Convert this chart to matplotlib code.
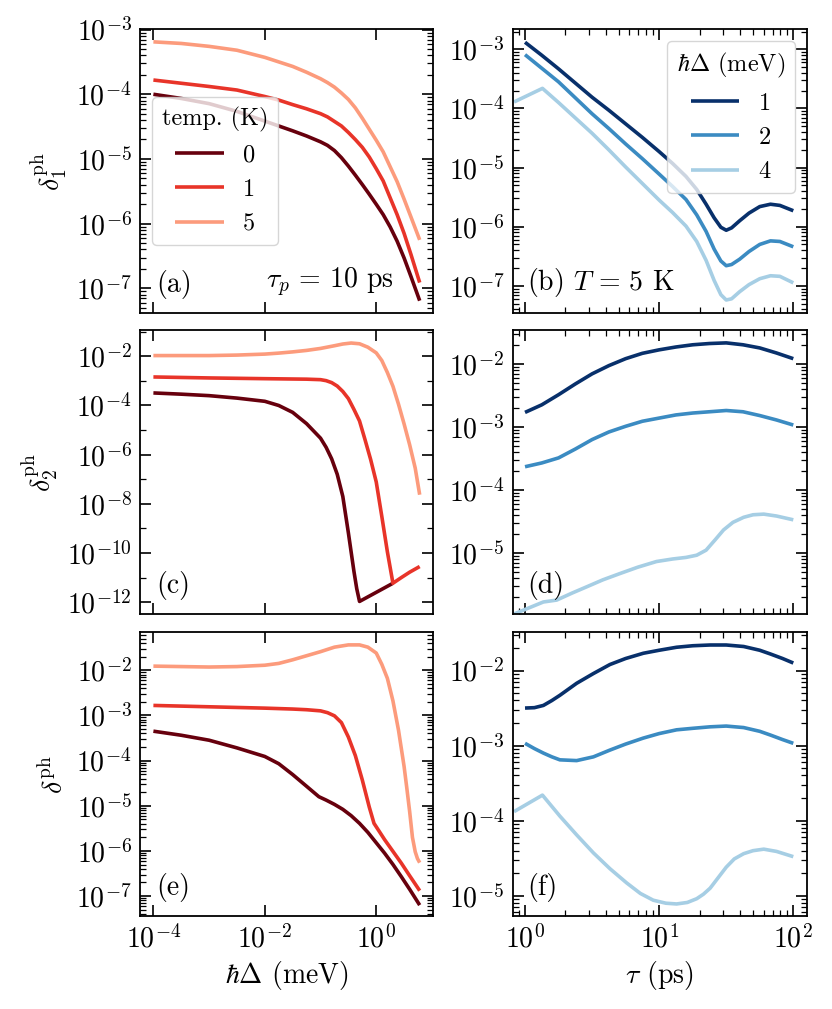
import numpy as np
import matplotlib
matplotlib.use('Agg')
import matplotlib.pyplot as plt
from matplotlib.ticker import LogLocator, NullLocator, NullFormatter

plt.rcParams['font.family'] = 'serif'
plt.rcParams['font.serif'] = ['cmr10']
plt.rcParams['mathtext.fontset'] = 'cm'
plt.rcParams['axes.unicode_minus'] = False
plt.rcParams['axes.formatter.use_mathtext'] = True
plt.rcParams['font.size'] = 20
plt.rcParams['legend.fontsize'] = 17.5
plt.rcParams['legend.title_fontsize'] = 17.5

# all numbers below are log10 of the values

# ---- left column: x = hbar*Delta (meV), temperatures 0, 1, 5 K ----
temps = ['0', '1', '5']

lx_a = [-4, -3.5, -3, -2.5, -2, -1.75, -1.5, -1.25, -1, -0.875, -0.75, -0.625, -0.5,
        -0.375, -0.25, -0.125, 0, 0.125, 0.25, 0.375, 0.5, 0.625, 0.78]
ly_a_T0 = [-4.0, -4.065, -4.145, -4.265, -4.415, -4.49, -4.565, -4.645, -4.735, -4.79, -4.87, -4.98, -5.11,
           -5.25, -5.395, -5.545, -5.70, -5.86, -6.05, -6.27, -6.53, -6.82, -7.19]
ly_a_T1 = [-3.78, -3.83, -3.88, -3.935, -4.035, -4.09, -4.16, -4.225, -4.30, -4.35, -4.42, -4.49, -4.59,
           -4.70, -4.82, -4.97, -5.15, -5.34, -5.60, -5.86, -6.15, -6.48, -6.91]
ly_a_T5 = [-3.19, -3.215, -3.26, -3.32, -3.43, -3.50, -3.57, -3.66, -3.76, -3.82, -3.89, -3.98, -4.08,
           -4.21, -4.37, -4.54, -4.71, -4.89, -5.12, -5.35, -5.62, -5.90, -6.25]

lx_c_T0 = [-4, -3.5, -3, -2.5, -2, -1.75, -1.5, -1.25, -1.0, -0.9, -0.8, -0.7, -0.6, -0.5, -0.4, -0.35, -0.3, 0.3]
ly_c_T0 = [-3.49, -3.54, -3.60, -3.70, -3.83, -4.0, -4.28, -4.74, -5.33, -5.70, -6.17, -6.80, -7.70, -9.18,
           -10.75, -11.45, -11.97, -11.23]
lx_c_T1 = [-4, -3, -2, -1.25, -1, -0.9, -0.8, -0.7, -0.6, -0.5, -0.4, -0.3, -0.2, -0.1, 0, 0.1, 0.2, 0.3,
           0.45, 0.6, 0.78]
ly_c_T1 = [-2.84, -2.88, -2.91, -2.93, -2.95, -2.99, -3.07, -3.21, -3.43, -3.72, -4.16, -4.63, -5.40, -6.20,
           -7.11, -8.51, -9.95, -11.23, -11.0, -10.78, -10.55]
lx_c_T5 = [-4, -3, -2.5, -2, -1.75, -1.5, -1.25, -1, -0.75, -0.6, -0.45, -0.3, -0.15, 0, 0.1, 0.2, 0.3, 0.4,
           0.5, 0.6, 0.7, 0.78]
ly_c_T5 = [-1.97, -1.97, -1.95, -1.91, -1.87, -1.82, -1.76, -1.68, -1.57, -1.50, -1.46, -1.49, -1.63, -1.86,
           -2.17, -2.66, -3.22, -3.95, -4.75, -5.60, -6.55, -7.63]

lx_e_T0 = [-4, -3.5, -3, -2.5, -2, -1.75, -1.5, -1.25, -1.03, -0.9, -0.75, -0.6, -0.45, -0.3, -0.15, 0, 0.15,
           0.3, 0.45, 0.6, 0.78]
ly_e_T0 = [-3.35, -3.44, -3.55, -3.72, -3.91, -4.07, -4.31, -4.57, -4.80, -4.875, -4.97, -5.08, -5.22, -5.39,
           -5.59, -5.82, -6.05, -6.30, -6.57, -6.85, -7.20]
lx_e_T1 = [-4, -3, -2, -1.5, -1.25, -1, -0.875, -0.75, -0.625, -0.5, -0.375, -0.25, -0.125, -0.04, 0.05, 0.15,
           0.3, 0.45, 0.6, 0.78]
ly_e_T1 = [-2.78, -2.81, -2.84, -2.86, -2.875, -2.90, -2.94, -3.01, -3.16, -3.48, -3.89, -4.43, -5.03, -5.39,
           -5.56, -5.75, -6.01, -6.27, -6.55, -6.88]
lx_e_T5 = [-4, -3.5, -3, -2.5, -2, -1.75, -1.5, -1.25, -1, -0.75, -0.5, -0.3, -0.15, 0, 0.1, 0.2, 0.3, 0.4,
           0.5, 0.55, 0.6, 0.65, 0.7, 0.74, 0.78]
ly_e_T5 = [-1.91, -1.92, -1.93, -1.92, -1.89, -1.85, -1.77, -1.68, -1.59, -1.49, -1.44, -1.44, -1.49, -1.62,
           -1.87, -2.18, -2.68, -3.33, -4.13, -4.62, -5.13, -5.70, -6.02, -6.17, -6.26]

# ---- right column: x = tau (ps), gaps 1, 2, 4 meV ----
gaps = ['1', '2', '4']

lx_b = [0, 0.125, 0.25, 0.375, 0.5, 0.625, 0.75, 0.875, 1.0, 1.1, 1.2, 1.28, 1.35, 1.41, 1.46, 1.5, 1.54,
        1.6, 1.67, 1.75, 1.83, 1.9, 2.0]
ly_b_D1 = [-2.88, -3.10, -3.33, -3.57, -3.81, -4.03, -4.26, -4.49, -4.73, -4.93, -5.15, -5.37, -5.62, -5.85,
           -6.01, -6.06, -6.02, -5.90, -5.77, -5.66, -5.62, -5.64, -5.73]
ly_b_D2 = [-3.09, -3.32, -3.55, -3.82, -4.09, -4.34, -4.60, -4.85, -5.11, -5.32, -5.54, -5.80, -6.08, -6.38,
           -6.58, -6.66, -6.64, -6.55, -6.42, -6.30, -6.24, -6.25, -6.34]
lx_b4 = [-0.082, 0.13, 0.25, 0.375, 0.5, 0.625, 0.75, 0.875, 1.0, 1.1, 1.2, 1.28, 1.35, 1.41, 1.46, 1.5, 1.54,
         1.6, 1.67, 1.75, 1.83, 1.9, 2.0]
ly_b_D4 = [-3.89, -3.66, -3.90, -4.16, -4.42, -4.70, -4.99, -5.27, -5.55, -5.76, -5.99, -6.25, -6.57, -6.91,
           -7.15, -7.24, -7.22, -7.10, -6.98, -6.88, -6.83, -6.84, -6.95]

lx_d = [0, 0.125, 0.25, 0.375, 0.5, 0.625, 0.75, 0.875, 1.0, 1.125, 1.25, 1.375, 1.5, 1.625, 1.75, 1.875, 2.0]
ly_d_D1 = [-2.77, -2.65, -2.49, -2.32, -2.16, -2.03, -1.92, -1.835, -1.78, -1.735, -1.70, -1.68, -1.67, -1.70,
           -1.75, -1.83, -1.92]
ly_d_D2 = [-3.63, -3.57, -3.49, -3.35, -3.20, -3.08, -2.99, -2.91, -2.86, -2.81, -2.78, -2.76, -2.74, -2.76,
           -2.82, -2.89, -2.97]
lx_d4 = [-0.082, 0.137, 0.236, 0.35, 0.46, 0.58, 0.708, 0.84, 0.98, 1.1, 1.2, 1.28, 1.35, 1.42, 1.48, 1.55,
         1.63, 1.7, 1.78, 1.875, 2.0]
ly_d_D4 = [-5.96, -5.77, -5.74, -5.63, -5.53, -5.42, -5.32, -5.22, -5.13, -5.09, -5.065, -5.03, -4.95, -4.78,
           -4.63, -4.51, -4.43, -4.39, -4.38, -4.41, -4.47]

lx_f = [0, 0.07, 0.137, 0.2, 0.26, 0.385, 0.51, 0.633, 0.75, 0.882, 1.0, 1.13, 1.25, 1.38, 1.5, 1.63, 1.75,
        1.83, 1.92, 2.0]
ly_f_D1 = [-2.50, -2.495, -2.465, -2.40, -2.33, -2.17, -2.04, -1.92, -1.84, -1.77, -1.73, -1.69, -1.67, -1.66,
           -1.66, -1.68, -1.73, -1.78, -1.84, -1.90]
ly_f_D2 = [-2.97, -3.04, -3.10, -3.15, -3.19, -3.20, -3.15, -3.06, -2.98, -2.90, -2.84, -2.79, -2.77, -2.75,
           -2.74, -2.76, -2.81, -2.86, -2.92, -2.97]
lx_f4 = [-0.082, 0.13, 0.26, 0.385, 0.51, 0.633, 0.758, 0.86, 0.956, 1.05, 1.13, 1.21, 1.28, 1.33, 1.38, 1.44,
         1.5, 1.56, 1.63, 1.7, 1.78, 1.875, 2.0]
ly_f_D4 = [-3.88, -3.66, -3.94, -4.19, -4.43, -4.64, -4.83, -4.97, -5.06, -5.10, -5.11, -5.09, -5.04, -4.98,
           -4.90, -4.76, -4.62, -4.51, -4.44, -4.40, -4.38, -4.41, -4.48]

reds = plt.cm.Reds([1.0, 0.65, 0.35])
blues = plt.cm.Blues([1.0, 0.65, 0.35])
lw = 2.6

fig = plt.figure(figsize=(8.32, 10.09), dpi=100)
lefts = [0.1683, 0.6162]
widths = [0.3522, 0.3534]
bottoms = [0.6898, 0.3915, 0.0922]
height = 0.2812
axs = [[fig.add_axes([lefts[c], bottoms[r], widths[c], height]) for c in range(2)] for r in range(3)]

left_data = [
    [(lx_a, ly_a_T0), (lx_a, ly_a_T1), (lx_a, ly_a_T5)],
    [(lx_c_T0, ly_c_T0), (lx_c_T1, ly_c_T1), (lx_c_T5, ly_c_T5)],
    [(lx_e_T0, ly_e_T0), (lx_e_T1, ly_e_T1), (lx_e_T5, ly_e_T5)],
]
right_data = [
    [(lx_b, ly_b_D1), (lx_b, ly_b_D2), (lx_b4, ly_b_D4)],
    [(lx_d, ly_d_D1), (lx_d, ly_d_D2), (lx_d4, ly_d_D4)],
    [(lx_f, ly_f_D1), (lx_f, ly_f_D2), (lx_f4, ly_f_D4)],
]

left_ylims = [(10**-7.38, 1.01e-3), (10**-12.48, 10**-0.94), (10**-7.44, 10**-1.16)]
right_ylims = [(10**-7.46, 10**-2.66), (10**-5.96, 10**-1.47), (10**-5.27, 10**-1.49)]
ylabels = [r'$\delta_1^{\rm ph}$', r'$\delta_2^{\rm ph}$', r'$\delta^{\rm ph}$']
tags = [['(a)', r'(b) $T\,=\,5$ K'], ['(c)', '(d)'], ['(e)', '(f)']]

for r in range(3):
    ax = axs[r][0]
    for (x, y), col, lab in zip(left_data[r], reds, temps):
        ax.plot(np.power(10.0, x), np.power(10.0, y), color=col, lw=lw, label=lab,
                solid_joinstyle='round', solid_capstyle='butt')
    ax.set_xscale('log')
    ax.set_yscale('log')
    ax.set_xlim(10**-4.24, 10**1.02)
    ax.set_ylim(*left_ylims[r])
    ax.xaxis.set_major_locator(LogLocator(base=100, numticks=20))
    ax.xaxis.set_minor_locator(NullLocator())
    if r == 1:
        ax.yaxis.set_major_locator(LogLocator(base=100, numticks=20))
        ax.yaxis.set_minor_locator(LogLocator(base=10, subs=(1.0,), numticks=30))
    else:
        ax.yaxis.set_major_locator(LogLocator(base=10, numticks=20))
        ax.yaxis.set_minor_locator(LogLocator(base=10, subs=range(2, 10), numticks=20))
    ax.yaxis.set_minor_formatter(NullFormatter())
    ax.set_ylabel(ylabels[r], labelpad=5)
    ax.text(0.055, 0.05, tags[r][0], transform=ax.transAxes, ha='left', va='bottom')

    ax = axs[r][1]
    for (x, y), col, lab in zip(right_data[r], blues, gaps):
        ax.plot(np.power(10.0, x), np.power(10.0, y), color=col, lw=lw, label=lab,
                solid_joinstyle='round', solid_capstyle='butt')
    ax.set_xscale('log')
    ax.set_yscale('log')
    ax.set_xlim(10**-0.092, 10**2.1)
    ax.set_ylim(*right_ylims[r])
    ax.yaxis.set_major_locator(LogLocator(base=10, numticks=20))
    ax.yaxis.set_minor_locator(LogLocator(base=10, subs=range(2, 10), numticks=20))
    ax.yaxis.set_minor_formatter(NullFormatter())
    ax.text(0.05, 0.05, tags[r][1], transform=ax.transAxes, ha='left', va='bottom')

for row in axs:
    for ax in row:
        ax.tick_params(which='both', direction='in', top=True, right=True)
        ax.tick_params(which='major', length=8, width=1.2, pad=6)
        ax.tick_params(which='minor', length=4, width=0.9)
        for sp in ax.spines.values():
            sp.set_linewidth(1.3)

for r in range(2):
    for c in range(2):
        axs[r][c].tick_params(labelbottom=False)

axs[0][0].text(0.43, 0.05, r'$\tau_p\,=\,10$ ps', transform=axs[0][0].transAxes, ha='left', va='bottom')
axs[2][0].set_xlabel(r'$\hbar\Delta$ (meV)')
axs[2][1].set_xlabel(r'$\tau$ (ps)')

axs[0][0].legend(title='temp. (K)', loc='center left', handlelength=2.0)
axs[0][1].legend(title=r'$\hbar\Delta$ (meV)', loc='upper right', handlelength=2.0)

fig.savefig('out.png', dpi=100)
